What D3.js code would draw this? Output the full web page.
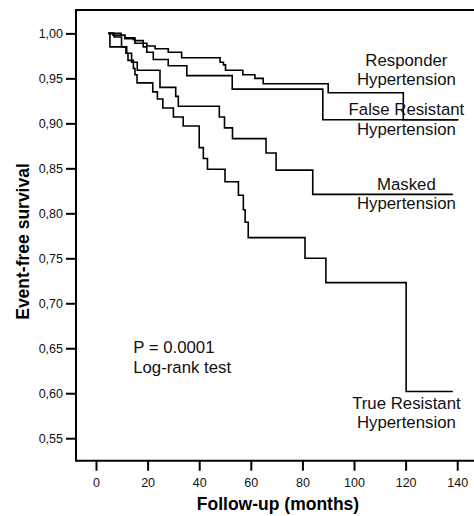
<!DOCTYPE html>
<html>
<head>
<meta charset="utf-8">
<script src="https://cdn.jsdelivr.net/npm/d3@7"></script>
<style>
  body { margin: 0; background: #fff; }
  svg { display: block; }
</style>
</head>
<body>
<div id="chart"></div>
<script>
// chart size
var width = 474;
var height = 516;

// Kaplan-Meier steps: month where the step happens, survival after it
var responderMonths = [4.8, 9.7, 11.2, 15.1, 18.3, 19.7, 22.9, 28.0, 33.2, 48.1, 49.4, 50.2, 56.9, 61.6, 64.8, 90.0, 119.1, 140.4];
var responderSurv   = [1.000, 0.998, 0.995, 0.992, 0.989, 0.986, 0.983, 0.979, 0.973, 0.968, 0.965, 0.959, 0.954, 0.950, 0.944, 0.934, 0.904, 0.904];

var falseResMonths = [4.8, 6.6, 11.2, 14.5, 15.1, 18.3, 19.7, 22.2, 28.0, 35.2, 52.8, 87.9, 140.4];
var falseResSurv   = [1.000, 0.998, 0.994, 0.993, 0.989, 0.985, 0.979, 0.971, 0.964, 0.953, 0.938, 0.904, 0.904];

var maskedMonths = [4.8, 7.0, 9.9, 11.9, 13.8, 16.0, 24.8, 30.9, 31.9, 47.8, 49.8, 52.9, 65.9, 69.8, 84.0, 138.3];
var maskedSurv   = [1.000, 0.996, 0.985, 0.978, 0.968, 0.959, 0.940, 0.930, 0.919, 0.907, 0.895, 0.883, 0.867, 0.848, 0.821, 0.821];

var trueResMonths = [4.8, 5.4, 11.6, 12.4, 14.5, 15.1, 15.9, 22.0, 23.8, 25.9, 30.0, 33.8, 40.0, 41.6, 43.2, 50.0, 55.2, 57.1, 57.8, 59.0, 81.0, 89.1, 120.2, 138.3];
var trueResSurv   = [1.000, 0.985, 0.978, 0.970, 0.961, 0.954, 0.945, 0.935, 0.927, 0.917, 0.907, 0.897, 0.873, 0.861, 0.849, 0.835, 0.820, 0.804, 0.790, 0.773, 0.750, 0.723, 0.602, 0.602];

var xTicks = [0, 20, 40, 60, 80, 100, 120, 140];
var yTicks = [0.55, 0.60, 0.65, 0.70, 0.75, 0.80, 0.85, 0.90, 0.95, 1.00];

var groupLabels = [
  { lines: ["Responder", "Hypertension"], y: 0.9642 },
  { lines: ["False Resistant", "Hypertension"], y: 0.9089 },
  { lines: ["Masked", "Hypertension"], y: 0.8256 },
  { lines: ["True Resistant", "Hypertension"], y: 0.5829 }
];

var font = "Arial, 'Liberation Sans', Helvetica, sans-serif";

var svg = d3.select('#chart')
  .append('svg')
  .attr('width', width)
  .attr('height', height);

var x = d3.scaleLinear().domain([-7.75, 146.5]).range([76, 474]);
var y = d3.scaleLinear().domain([0.525, 1.026]).range([460.7, 10]);

// frame: left, top and bottom lines (chart is cut off on the right)
var frame = svg.append('g')
  .attr('stroke', '#000')
  .attr('stroke-width', 2)
  .attr('fill', 'none');
frame.append('line').attr('x1', x.range()[0]).attr('x2', x.range()[0])
  .attr('y1', y.range()[1] - 1).attr('y2', y.range()[0] + 1);
frame.append('line').attr('x1', x.range()[0]).attr('x2', width + 5)
  .attr('y1', y.range()[1]).attr('y2', y.range()[1]);
frame.append('line').attr('x1', x.range()[0]).attr('x2', width + 5)
  .attr('y1', y.range()[0]).attr('y2', y.range()[0]);

var yAxis = svg.append('g')
  .attr('transform', 'translate(' + x.range()[0] + ',0)')
  .call(d3.axisLeft(y)
    .tickValues(yTicks)
    .tickSize(10)
    .tickPadding(3)
    .tickFormat(function (d) { return d3.format('.2f')(d).replace('.', ','); }));

var xAxis = svg.append('g')
  .attr('transform', 'translate(0,' + y.range()[0] + ')')
  .call(d3.axisBottom(x)
    .tickValues(xTicks)
    .tickSize(10)
    .tickPadding(7));

[yAxis, xAxis].forEach(function (ax) {
  ax.select('.domain').remove();
  ax.selectAll('.tick line').attr('stroke', '#000').attr('stroke-width', 2);
  ax.selectAll('.tick text')
    .attr('fill', '#111')
    .style('font-family', font)
    .style('font-size', '12.5px');
});

// survival curves
var curves = [
  [responderMonths, responderSurv],
  [falseResMonths, falseResSurv],
  [maskedMonths, maskedSurv],
  [trueResMonths, trueResSurv]
];

var line = d3.line()
  .x(function (d) { return x(d[0]); })
  .y(function (d) { return y(d[1]); })
  .curve(d3.curveStepAfter);

svg.append('g')
  .selectAll('path')
  .data(curves)
  .enter()
  .append('path')
  .attr('fill', 'none')
  .attr('stroke', '#000')
  .attr('stroke-width', 1.6)
  .attr('d', function (c) {
    return line(c[0].map(function (m, i) { return [m, c[1][i]]; }));
  });

// group labels on the right
var labelG = svg.append('g')
  .attr('fill', '#111')
  .style('font-family', font)
  .style('font-size', '16.8px')
  .attr('text-anchor', 'middle');

groupLabels.forEach(function (g) {
  var t = labelG.append('text')
    .attr('x', x(120.3))
    .attr('y', y(g.y));
  g.lines.forEach(function (s, i) {
    t.append('tspan')
      .attr('x', x(120.3))
      .attr('dy', i === 0 ? 0 : 19.2)
      .text(s);
  });
});

// log-rank note
var note = svg.append('text')
  .attr('fill', '#111')
  .style('font-family', font)
  .style('font-size', '16.8px')
  .attr('x', x(14.4))
  .attr('y', y(0.6442));
note.append('tspan').attr('x', x(14.4)).attr('dy', 0).text('P = 0.0001');
note.append('tspan').attr('x', x(14.4)).attr('dy', 19.3).text('Log-rank test');

// axis titles
svg.append('text')
  .attr('text-anchor', 'middle')
  .attr('x', 278)
  .attr('y', 509.5)
  .style('font-family', font)
  .style('font-size', '17.5px')
  .style('font-weight', 'bold')
  .text('Follow-up (months)');

svg.append('text')
  .attr('text-anchor', 'middle')
  .attr('transform', 'translate(28.5,241.5) rotate(-90)')
  .style('font-family', font)
  .style('font-size', '17.5px')
  .style('font-weight', 'bold')
  .text('Event-free survival');
</script>
</body>
</html>
